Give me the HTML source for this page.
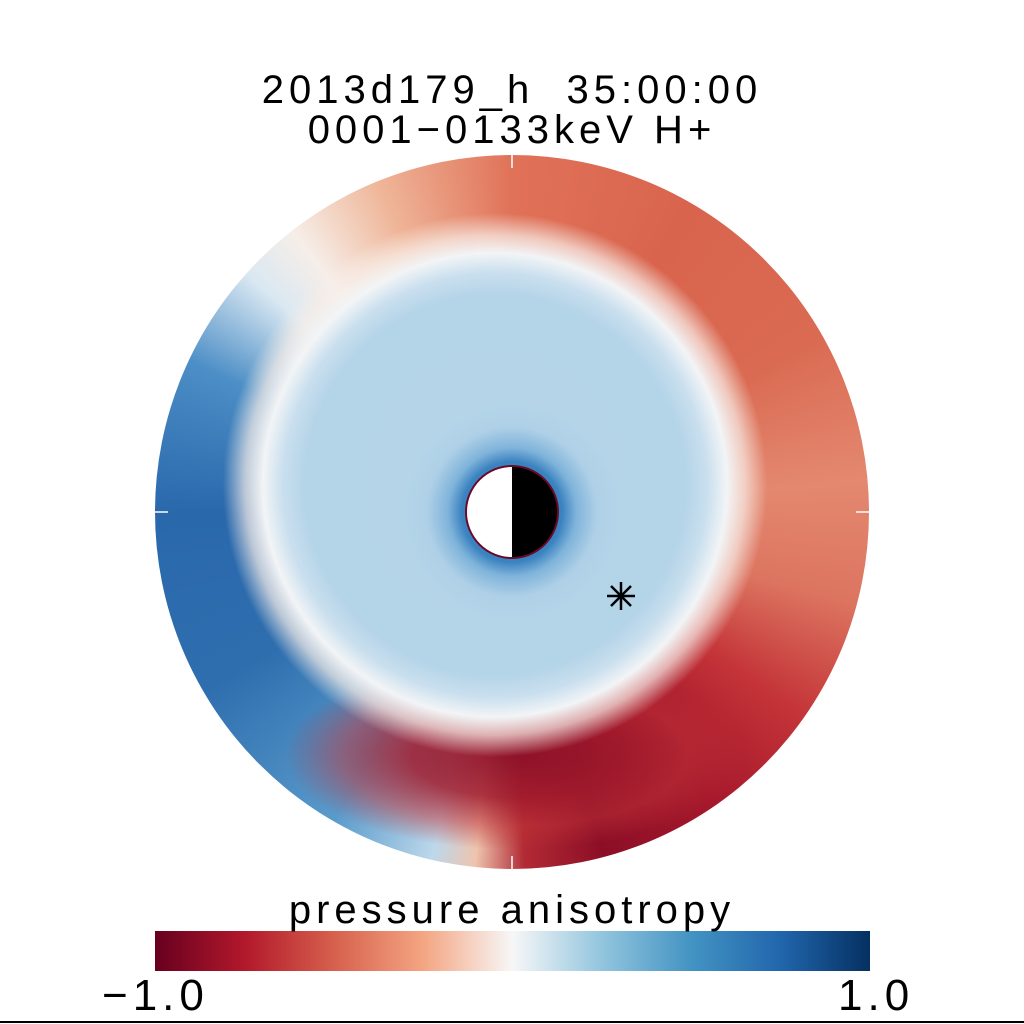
<!DOCTYPE html>
<html><head><meta charset="utf-8"><style>
html,body{margin:0;padding:0;background:#fff;}
body{width:1024px;height:1024px;position:relative;overflow:hidden;font-family:"Liberation Sans","DejaVu Sans",sans-serif;}
.t{position:absolute;left:0;width:1024px;text-align:center;color:#000;font-size:40px;line-height:40px;letter-spacing:5px;}
#disk{position:absolute;left:155px;top:155px;width:714px;height:714px;border-radius:50%;overflow:hidden;
background:conic-gradient(from 0deg,#e07258 0deg,#d9644e 30deg,#da6a52 60deg,#e48870 85deg,#dc7460 105deg,#c43438 125deg,#a6182c 145deg,#8c0e26 165deg,#b22a34 178deg,#eec4ae 186deg,#bcd8ea 193deg,#5a9acb 210deg,#2e6eae 240deg,#2a68ac 270deg,#4c8ec6 295deg,#dae8f2 312deg,#f6eee8 322deg,#efb598 338deg,#e07258 360deg);}
#blob{position:absolute;left:0;top:0;width:714px;height:714px;
background:radial-gradient(ellipse 230px 95px at 360px 600px,rgba(140,16,40,0.95) 0%,rgba(160,26,44,0.85) 45%,rgba(190,50,55,0.5) 75%,rgba(200,70,65,0) 100%);}
#ring{position:absolute;left:0;top:0;width:714px;height:714px;
background:radial-gradient(circle at 340px 330px,#b6d5e8 0px,#b4d4e8 190px,#c9dfee 212px,#f2f4f6 232px,rgba(248,238,232,0.7) 250px,rgba(248,238,232,0) 272px);}
#core{position:absolute;left:0;top:0;width:714px;height:714px;
background:radial-gradient(circle at 357px 357px,#2f76b6 0px,#3a82c0 50px,#7fb3da 64px,rgba(170,205,230,0.6) 85px,rgba(180,212,232,0) 110px);}
</style></head><body>
<div class="t" style="top:70px">2013d179_h&nbsp;&nbsp;35:00:00</div>
<div class="t" style="top:110px">0001−0133keV H+</div>
<div id="disk"><div id="blob"></div><div id="ring"></div><div id="core"></div></div>
<svg style="position:absolute;left:0;top:0" width="1024" height="1024">
<line x1="512" y1="155" x2="512" y2="168" stroke="#fff" stroke-width="1.5"/>
<line x1="512" y1="856" x2="512" y2="869" stroke="#fff" stroke-width="1.5"/>
<line x1="155" y1="512" x2="168" y2="512" stroke="#fff" stroke-width="1.5"/>
<line x1="856" y1="512" x2="869" y2="512" stroke="#fff" stroke-width="1.5"/>
<circle cx="512" cy="512" r="46" fill="#fff"/>
<path d="M512 466 A46 46 0 0 1 512 558 Z" fill="#000"/>
<circle cx="512" cy="512" r="46" fill="none" stroke="#6a0a28" stroke-width="2"/>
<g stroke="#000" stroke-width="2.5" transform="translate(621,596)">
<line x1="-14" y1="0" x2="14" y2="0"/><line x1="0" y1="-14" x2="0" y2="14"/>
<line x1="-10" y1="-10" x2="10" y2="10"/><line x1="-10" y1="10" x2="10" y2="-10"/>
</g>
<defs><linearGradient id="cb" x1="0" x2="1">
<stop offset="0" stop-color="#67001f"/><stop offset="0.125" stop-color="#b2182b"/>
<stop offset="0.25" stop-color="#d6604d"/><stop offset="0.375" stop-color="#f4a582"/>
<stop offset="0.5" stop-color="#f7f7f7"/><stop offset="0.625" stop-color="#92c5de"/>
<stop offset="0.75" stop-color="#4393c3"/><stop offset="0.875" stop-color="#2166ac"/>
<stop offset="1" stop-color="#053061"/></linearGradient></defs>
<rect x="155" y="931" width="715" height="40" fill="url(#cb)"/>
<line x1="0" y1="1022" x2="1024" y2="1022" stroke="#000" stroke-width="2"/>
</svg>
<div class="t" style="top:890px">pressure anisotropy</div>
<div class="t" style="top:976px;left:102px;width:160px;text-align:left;font-size:44px">−1.0</div>
<div class="t" style="top:976px;left:838px;width:120px;text-align:left;font-size:44px">1.0</div>
</body></html>
